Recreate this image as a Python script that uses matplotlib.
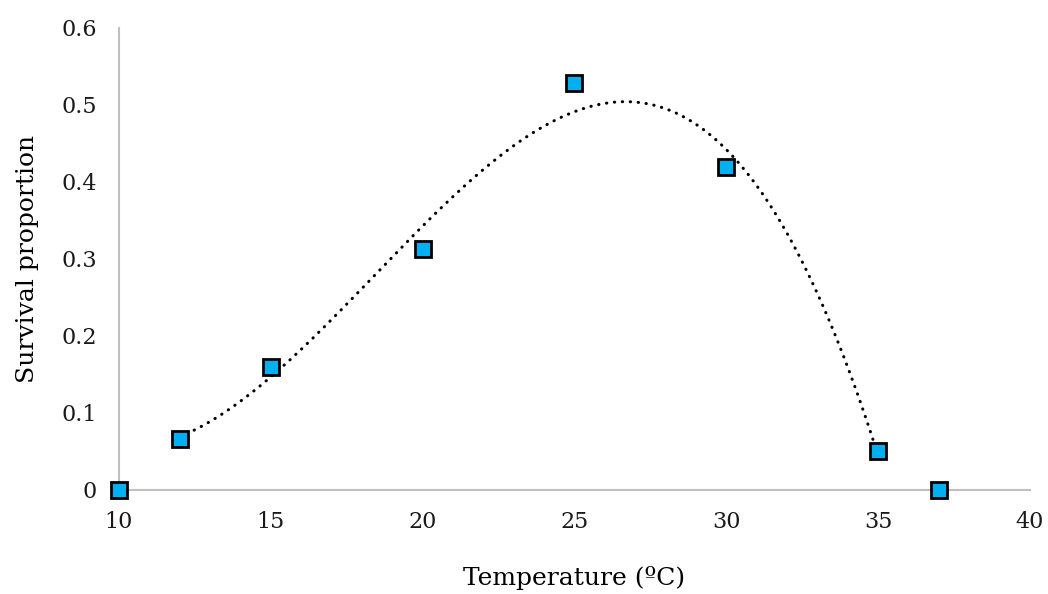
import numpy as np
import matplotlib
matplotlib.use("Agg")
import matplotlib.pyplot as plt

# survival proportion vs temperature
temp = [10, 12, 15, 20, 25, 30, 35, 37]
surv = [0.0, 0.066, 0.160, 0.313, 0.528, 0.420, 0.050, 0.0]

# trendline (polynomial) fitted over the 12-35 points, like the spreadsheet trendline
fit_temp = temp[1:7]
fit_surv = surv[1:7]

xticks = [10, 15, 20, 25, 30, 35, 40]
yticks = [0, 0.1, 0.2, 0.3, 0.4, 0.5, 0.6]
ytick_labels = ["0", "0.1", "0.2", "0.3", "0.4", "0.5", "0.6"]

plt.rcParams['font.family'] = ['DejaVu Serif']

fig = plt.figure(figsize=(10.48, 5.94), dpi=100)
ax = fig.add_axes([0.1135, 0.1751, 0.8693, 0.7778])

coef = np.polyfit(fit_temp, fit_surv, 3)
xs = np.linspace(min(fit_temp), max(fit_temp), 300)
ax.plot(xs, np.polyval(coef, xs), color='black', lw=2.2, linestyle=(0, (0.1, 2.5)),
        dash_capstyle='round', zorder=3)

ax.plot(temp, surv, linestyle='none', marker='s', markersize=12,
        markerfacecolor='#00b0f0', markeredgecolor='black', markeredgewidth=2,
        zorder=4, clip_on=False)

ax.set_xlim(10, 40)
ax.set_ylim(0, 0.6)
ax.set_xticks(xticks)
ax.set_yticks(yticks)
ax.set_yticklabels(ytick_labels)
ax.tick_params(length=0, labelsize=16, colors='#1a1a1a')
ax.tick_params(axis='x', pad=15)
ax.tick_params(axis='y', pad=16)

for s in ['top', 'right']:
    ax.spines[s].set_visible(False)
for s in ['left', 'bottom']:
    ax.spines[s].set_color('#c0c0c0')
    ax.spines[s].set_linewidth(1.5)

ax.set_xlabel("Temperature (ºC)", fontsize=18, labelpad=24)
ax.set_ylabel("Survival proportion", fontsize=18, labelpad=16)

fig.savefig("out.png", dpi=100)
